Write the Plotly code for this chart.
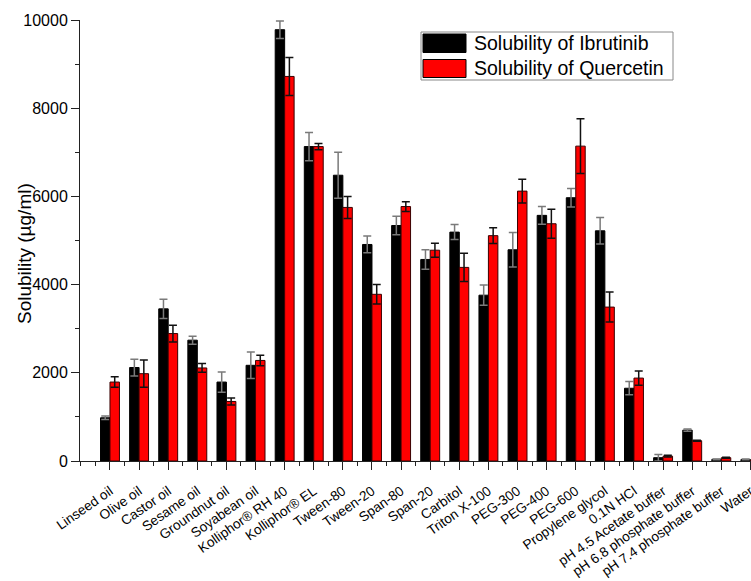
import plotly.graph_objects as go

# Solvent / vehicle categories
categories = [
    "Linseed oil", "Olive oil", "Castor oil", "Sesame oil", "Groundnut oil",
    "Soyabean oil", "Kolliphor® RH 40", "Kolliphor® EL", "Tween-80", "Tween-20",
    "Span-80", "Span-20", "Carbitol", "Triton X-100", "PEG-300", "PEG-400",
    "PEG-600", "Propylene glycol", "0.1N HCl", "pH 4.5 Acetate buffer",
    "pH 6.8 phosphate buffer", "pH 7.4 phosphate buffer", "Water",
]

# Solubility (µg/ml), mean and SD
ibrutinib = [980, 2120, 3450, 2740, 1790, 2170, 9780, 7130, 6480, 4910,
             5340, 4570, 5190, 3760, 4790, 5570, 5970, 5220, 1650, 75,
             700, 38, 35]
ibrutinib_sd = [40, 190, 220, 90, 230, 300, 200, 320, 520, 190,
                210, 220, 170, 230, 390, 200, 210, 300, 150, 75,
                25, 10, 8]
quercetin = [1790, 1980, 2890, 2110, 1350, 2280, 8720, 7130, 5750, 3780,
             5770, 4780, 4390, 5110, 6120, 5380, 7140, 3490, 1880, 110,
             460, 75, 20]
quercetin_sd = [120, 310, 190, 100, 80, 120, 430, 70, 250, 220,
                110, 160, 320, 180, 270, 330, 620, 340, 160, 20,
                10, 10, 5]

series_names = ["Solubility of Ibrutinib", "Solubility of Quercetin"]
series_colors = ["#000000", "#ff0000"]

y_ticks = [0, 2000, 4000, 6000, 8000, 10000]

x = list(range(len(categories)))
FONT = "Liberation Sans, Arial, Helvetica, sans-serif"

fig = go.Figure()
fig.add_trace(go.Bar(
    x=x, y=ibrutinib, name=series_names[0],
    marker=dict(color=series_colors[0], line=dict(color="#000000", width=1)),
    error_y=dict(type="data", array=ibrutinib_sd, visible=True,
                 color="#7a7a7a", thickness=1.5, width=4),
))
fig.add_trace(go.Bar(
    x=x, y=quercetin, name=series_names[1],
    marker=dict(color=series_colors[1], line=dict(color="#3a0000", width=1)),
    error_y=dict(type="data", array=quercetin_sd, visible=True,
                 color="#111111", thickness=1.5, width=4),
))

fig.update_layout(
    width=751, height=581,
    margin=dict(l=80, r=0, t=20, b=120),
    paper_bgcolor="white", plot_bgcolor="white",
    barmode="group", bargap=0.35, bargroupgap=0,
    showlegend=False,
    font=dict(family=FONT, color="black"),
)

fig.update_xaxes(
    range=[-1.03, 22.02], automargin=False,
    tickmode="array", tickvals=x, ticktext=categories,
    tickangle=-35, tickfont=dict(size=13.6, family=FONT, color="black"),
    ticklabelstandoff=8, ticklabeloverflow="allow",
    ticks="outside", ticklen=8, tickwidth=1, tickcolor="#222",
    minor=dict(tickmode="array", tickvals=[-1] + [i + 0.5 for i in range(-1, 22)],
               ticks="outside", ticklen=4, tickwidth=1, tickcolor="#222"),
    showline=True, linecolor="#222", linewidth=1,
    showgrid=False, zeroline=False,
)

fig.update_yaxes(
    range=[0, 10000], automargin=False,
    tickmode="array", tickvals=y_ticks, ticktext=[str(v) for v in y_ticks],
    tickfont=dict(size=16, family=FONT, color="black"),
    ticks="outside", ticklen=8, tickwidth=1, tickcolor="#222",
    minor=dict(tickmode="linear", tick0=0, dtick=1000,
               ticks="outside", ticklen=4, tickwidth=1, tickcolor="#222"),
    showline=True, linecolor="#222", linewidth=1,
    showgrid=False, zeroline=False,
)

# y-axis title
fig.add_annotation(
    text="Solubility (µg/ml)", textangle=-90,
    xref="paper", yref="paper", x=-0.083, y=0.47,
    xanchor="center", yanchor="middle",
    showarrow=False, font=dict(size=19, family=FONT, color="black"),
)

# Legend box with wide swatches
px_w, px_h = 671, 441
def px(xp):
    return (xp - 80) / px_w
def py(yp):
    return (461 - yp) / px_h

fig.add_shape(type="rect", xref="paper", yref="paper",
              x0=px(421), x1=px(673), y0=py(80), y1=py(32),
              line=dict(color="#888888", width=1), fillcolor="white")
rows = [(34, 52.5), (59.5, 77.5)]
for (top, bot), name, color in zip(rows, series_names, series_colors):
    fig.add_shape(type="rect", xref="paper", yref="paper",
                  x0=px(423), x1=px(466), y0=py(bot), y1=py(top),
                  line=dict(color="#000000", width=1), fillcolor=color)
    fig.add_annotation(text=name, xref="paper", yref="paper",
                       x=px(472), y=py((top + bot) / 2),
                       xanchor="left", yanchor="middle", showarrow=False,
                       font=dict(size=19.5, family=FONT, color="black"))

fig.write_html("out.html")
